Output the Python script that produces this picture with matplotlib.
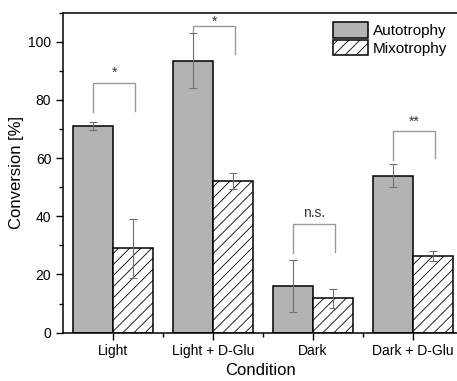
import numpy as np
import matplotlib
matplotlib.use("Agg")
import matplotlib.pyplot as plt
from matplotlib.ticker import MultipleLocator, FixedLocator

plt.rcParams["font.family"] = ["Liberation Sans", "DejaVu Sans"]
plt.rcParams["hatch.color"] = "#808080"
plt.rcParams["hatch.linewidth"] = 0.6

# ---- data ----
conditions = ["Light", "Light + D-Glu", "Dark", "Dark + D-Glu"]
auto_mean = [70.9, 93.5, 16.0, 54.0]
auto_err = [1.4, 9.4, 8.8, 3.8]
mixo_mean = [29.0, 52.0, 11.8, 26.4]
mixo_err = [10.2, 2.7, 3.2, 1.7]
sig_labels = ["*", "*", "n.s.", "**"]
sig_y = [88.0, 105.4, 39.7, 71.2]
bracket_top = [85.8, 105.3, 37.2, 69.4]
bracket_left_end = [75.7, 103.0, 27.4, 59.5]
bracket_right_end = [76.3, 95.8, 27.8, 60.1]

x = np.arange(1, len(conditions) + 1)
w = 0.4

fig = plt.figure(figsize=(4.57, 3.81), dpi=100)
ax = fig.add_axes([0.138, 0.127, 0.862, 0.840])

ax.bar(x - w / 2, auto_mean, w, color="#b3b3b3", edgecolor="black",
       linewidth=1.1, label="Autotrophy", zorder=2)
ax.bar(x + w / 2, mixo_mean, w, color="white", edgecolor="black",
       linewidth=1.1, hatch="///", label="Mixotrophy", zorder=2)
ax.errorbar(x - w / 2, auto_mean, yerr=auto_err, fmt="none", ecolor="#707070",
            elinewidth=0.8, capsize=3, capthick=0.8, zorder=3)
ax.errorbar(x + w / 2, mixo_mean, yerr=mixo_err, fmt="none", ecolor="#707070",
            elinewidth=0.8, capsize=3, capthick=0.8, zorder=3)

# significance brackets
for i in range(len(conditions)):
    xl, xr = x[i] - w / 2, x[i] + w / 2 + 0.02
    ax.plot([xl, xl, xr, xr],
            [bracket_left_end[i], bracket_top[i], bracket_top[i], bracket_right_end[i]],
            color="#9a9a9a", linewidth=1.0, zorder=1)
    ax.text((xl + xr) / 2, sig_y[i], sig_labels[i], ha="center",
            va="baseline", fontsize=10, color="#333333")

ax.set_xlim(0.5, 4.44)
ax.set_ylim(0, 110)
ax.set_xticks(x)
ax.set_xticklabels(conditions, fontsize=10)
ax.xaxis.set_minor_locator(FixedLocator([1.5, 2.5, 3.5]))
ax.yaxis.set_major_locator(MultipleLocator(20))
ax.yaxis.set_minor_locator(MultipleLocator(10))
ax.tick_params(axis="both", which="major", direction="out", length=5, width=1.0,
               labelsize=10, colors="black")
ax.tick_params(axis="both", which="minor", direction="out", length=3, width=1.0)

ax.set_xlabel("Condition", fontsize=12, labelpad=3)
ax.set_ylabel("Conversion [%]", fontsize=12, labelpad=3)

ax.spines["right"].set_visible(False)
for s in ["left", "bottom", "top"]:
    ax.spines[s].set_linewidth(1.1)

ax.legend(loc="upper right", bbox_to_anchor=(0.975, 0.97), frameon=False,
          fontsize=11, handlelength=2.3, handleheight=1.2, labelspacing=0.1,
          handletextpad=0.3, borderpad=0, borderaxespad=0)

fig.savefig("out.png", dpi=100)
